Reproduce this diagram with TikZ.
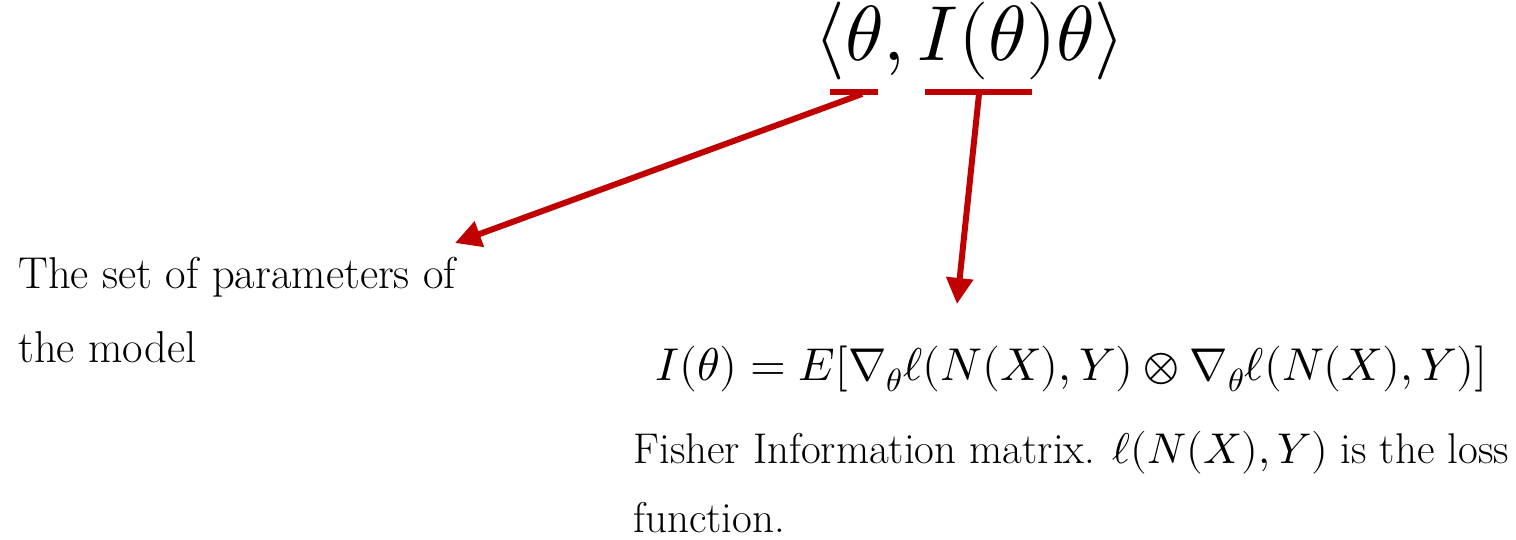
\documentclass[tikz,border=0pt]{standalone}
\usepackage{unicode-math}
\usetikzlibrary{arrows.meta}
\definecolor{darkred}{HTML}{C00000}
\tikzset{
  bar/.style={draw=darkred, line width=3pt},
  arr/.style={draw=darkred, line width=3pt, -{Triangle[length=13pt,width=13pt]}},
  txt/.style={anchor=base west, inner sep=0pt, font=\fontsize{21.5}{26}\selectfont},
}
\begin{document}
\begin{tikzpicture}[x=0.5pt,y=-0.5pt]
\useasboundingbox (0,0) rectangle (1516,540);
% top formula
\node[anchor=base, inner sep=0pt, font=\fontsize{39}{46}\selectfont] (top) at (970,61) {$\langle\theta, I(\theta)\theta\rangle$};
% underline bars
\coordinate (b1l) at (830,92);
\coordinate (b1r) at (878,92);
\coordinate (b2l) at (925,92);
\coordinate (b2r) at (1032,92);
\draw[bar] (b1l) -- (b1r);
\draw[bar] (b2l) -- (b2r);
\coordinate (s1) at (862,94);
\coordinate (s2) at (979,94);
% texts
\node[txt, font=\fontsize{22.3}{26}\selectfont] (params1) at (18,288) {The set of parameters of};
\node[txt, font=\fontsize{22.3}{26}\selectfont] (params2) at (18,362) {the model};
\node[txt, font=\fontsize{23}{28}\selectfont] (fisher) at (655,380) {$I(\theta) = E[\nabla_\theta \ell(N(X),Y) \otimes \nabla_\theta \ell(N(X),Y)]$};
\node[txt] (desc1) at (633,463) {Fisher Information matrix. $\ell(N(X),Y)$ is the loss};
\node[txt] (desc2) at (633,532) {function.};
\coordinate (e1) at (455,243);
\coordinate (e2) at (957,304);
\draw[arr] (s1) -- (e1);
\draw[arr] (s2) -- (e2);
\end{tikzpicture}
\end{document}
